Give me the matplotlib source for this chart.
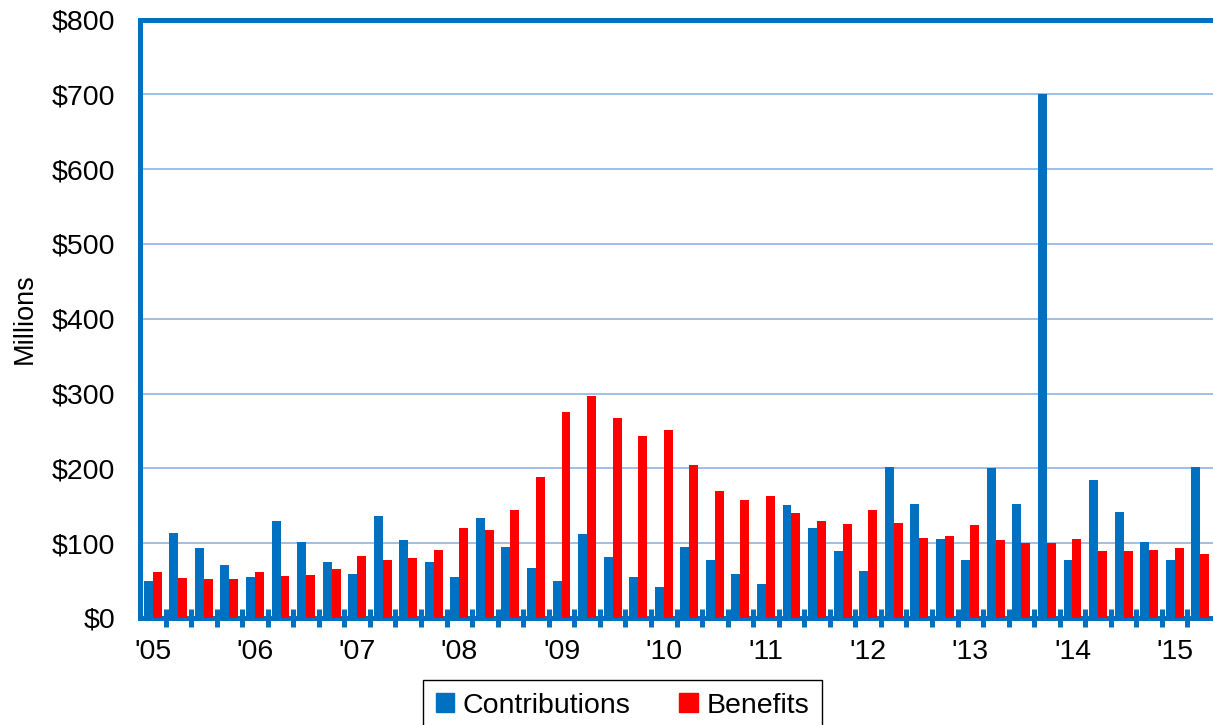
import matplotlib
matplotlib.use("Agg")
import matplotlib.pyplot as plt
import matplotlib.patches as mpatches
import numpy as np

plt.rcParams.update({
    'font.family': ['Liberation Sans', 'DejaVu Sans'],
    'font.size': 20,
})

# Quarterly flows, 2005 Q1 .. 2015 Q2 ($ millions)
years = ["'05", "'06", "'07", "'08", "'09", "'10", "'11", "'12", "'13", "'14", "'15"]
contributions = [50, 113, 93, 71,
                 55, 130, 102, 75,
                 59, 136, 104, 75,
                 55, 134, 95, 67,
                 50, 112, 82, 55,
                 41, 95, 78, 59,
                 45, 151, 120, 90,
                 63, 202, 152, 106,
                 78, 201, 152, 700,
                 78, 185, 142, 101,
                 77, 202]
benefits = [62, 53, 52, 52,
            61, 56, 58, 65,
            83, 77, 80, 91,
            120, 118, 144, 188,
            276, 297, 268, 243,
            251, 204, 170, 158,
            163, 140, 130, 126,
            145, 127, 107, 110,
            124, 104, 100, 100,
            105, 90, 89, 91,
            93, 86]
y_ticks = [0, 100, 200, 300, 400, 500, 600, 700, 800]

C_BLUE = '#0070C0'
C_RED = '#FF0000'
C_GRID = '#8EB4E3'

n = len(contributions)
x = np.arange(n)
w = 0.35

fig = plt.figure(figsize=(12.13, 7.25), dpi=100)
ax = fig.add_axes([140 / 1213, 107 / 725, 1 - 140 / 1213, 0.8255])

ax.bar(x - w / 2, contributions, width=w, color=C_BLUE, zorder=3, label='Contributions')
ax.bar(x + w / 2, benefits, width=w, color=C_RED, zorder=3, label='Benefits')

ax.set_xlim(-0.5, n - 0.5)
ax.set_ylim(0, 800)
ax.set_yticks(y_ticks)
ax.set_yticklabels([f'${v}' for v in y_ticks])
ax.yaxis.grid(True, color=C_GRID, lw=1.2, zorder=0)
ax.set_axisbelow(True)
ax.tick_params(axis='y', length=0, pad=18, labelsize=20.5)
ax.set_ylabel('Millions', fontsize=19.5, labelpad=10)

# boundary ticks between quarters, year labels under each Q1
ax.set_xticks(np.arange(0.5, n - 1, 1))
ax.set_xticklabels([])
ax.tick_params(axis='x', which='major', direction='inout', length=13,
               width=3.6, color=C_BLUE)
ax.set_xticks(np.arange(0, n, 4), minor=True)
ax.set_xticklabels(years, minor=True)
ax.tick_params(axis='x', which='minor', length=0, pad=15, labelsize=20.5)

for side in ['left', 'top', 'bottom']:
    ax.spines[side].set_color(C_BLUE)
    ax.spines[side].set_linewidth(3.6)
ax.spines['right'].set_visible(False)

handles = [mpatches.Patch(color=C_BLUE, label='Contributions'),
           mpatches.Patch(color=C_RED, label='Benefits')]
leg = fig.legend(handles=handles, loc='upper center',
                 bbox_to_anchor=(622.5 / 1213, 1 - 680 / 725),
                 ncol=2, fontsize=20.5, frameon=True, fancybox=False,
                 edgecolor='black', framealpha=1, borderpad=0.45,
                 handlelength=0.65, handleheight=0.65, handletextpad=0.3,
                 columnspacing=1.7, borderaxespad=0)
leg.get_frame().set_linewidth(1.0)

fig.savefig('out.png', dpi=100)
